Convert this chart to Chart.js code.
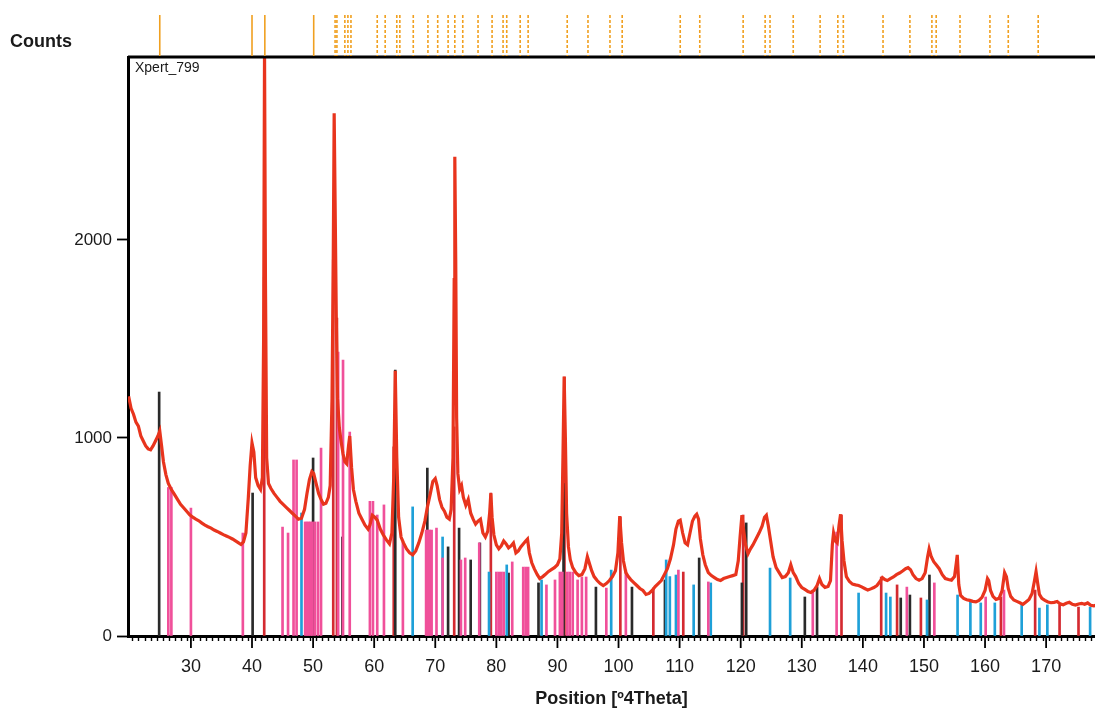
<!DOCTYPE html>
<html>
<head>
<meta charset="utf-8">
<script src="https://cdn.jsdelivr.net/npm/chart.js@4.4.1/dist/chart.umd.min.js"></script>
<style>
  body { margin: 0; background: #fff; overflow: hidden; }
</style>
</head>
<body>
<canvas id="xrd" width="1095" height="710"></canvas>
<script>
// measured profile (position in deg, counts)
var profileAngle = [19.8,20.2,20.6,21.0,21.4,21.8,22.2,22.6,23.0,23.4,23.8,24.2,24.6,24.9,25.2,25.5,25.9,26.3,26.8,27.3,27.8,28.3,28.8,29.3,29.8,30.3,30.8,31.3,31.8,32.3,32.8,33.3,33.8,34.3,34.8,35.3,35.8,36.3,36.8,37.3,37.8,38.2,38.6,39.0,39.4,39.7,40.0,40.3,40.6,41.0,41.4,41.7,41.9,42.05,42.2,42.4,42.7,43.1,43.6,44.1,44.6,45.1,45.6,46.1,46.6,47.1,47.6,48.1,48.6,49.0,49.4,49.8,50.1,50.5,50.9,51.3,51.7,52.1,52.5,52.8,53.1,53.3,53.45,53.6,53.8,54.0,54.3,54.6,54.9,55.2,55.5,55.8,56.0,56.3,56.6,57.0,57.5,58.0,58.5,59.0,59.3,59.7,60.1,60.5,61.0,61.5,62.0,62.5,62.9,63.2,63.45,63.7,64.0,64.4,64.8,65.3,65.8,66.3,66.8,67.3,67.8,68.3,68.7,69.2,69.6,70.0,70.3,70.7,71.1,71.5,71.9,72.3,72.6,72.9,73.1,73.2,73.35,73.5,73.7,74.0,74.3,74.6,75.0,75.4,75.8,76.2,76.6,77.0,77.4,77.8,78.2,78.6,78.9,79.1,79.3,79.6,80.0,80.4,80.8,81.2,81.6,82.0,82.4,82.8,83.2,83.6,84.0,84.4,84.8,85.1,85.4,85.8,86.2,86.7,87.1,87.6,88.0,88.5,89.0,89.5,90.0,90.4,90.7,90.9,91.1,91.3,91.5,91.8,92.1,92.5,93.0,93.5,94.0,94.5,94.9,95.2,95.6,96.0,96.5,97.0,97.5,98.0,98.5,99.0,99.5,99.9,100.2,100.5,100.8,101.2,101.6,102.0,102.5,103.0,103.5,104.0,104.5,105.0,105.5,106.0,106.5,107.0,107.5,108.0,108.5,109.0,109.4,109.8,110.1,110.5,110.9,111.3,111.7,112.1,112.5,112.8,113.1,113.4,113.8,114.2,114.7,115.2,115.7,116.2,116.7,117.2,117.7,118.2,118.7,119.2,119.6,119.9,120.2,120.5,120.8,121.2,121.6,122.0,122.5,123.0,123.5,123.9,124.2,124.5,124.9,125.3,125.8,126.3,126.8,127.3,127.8,128.2,128.6,129.0,129.5,130.0,130.5,131.0,131.5,132.0,132.5,132.9,133.3,133.8,134.3,134.7,135.0,135.2,135.5,135.8,136.1,136.35,136.6,136.9,137.3,137.8,138.3,138.8,139.3,139.8,140.3,140.8,141.3,141.8,142.3,142.8,143.2,143.6,144.0,144.5,145.0,145.5,146.0,146.5,147.0,147.4,147.8,148.2,148.7,149.2,149.7,150.2,150.6,150.85,151.2,151.6,152.0,152.5,153.0,153.5,154.0,154.5,155.0,155.3,155.45,155.7,156.0,156.5,157.0,157.5,158.0,158.5,159.0,159.5,160.0,160.4,160.6,160.9,161.3,161.8,162.3,162.8,163.2,163.5,163.8,164.2,164.7,165.2,165.7,166.2,166.7,167.2,167.7,168.1,168.35,168.6,168.9,169.3,169.8,170.3,170.8,171.3,171.8,172.3,172.8,173.3,173.8,174.3,174.8,175.3,175.8,176.3,176.8,177.3,177.8,178.3];
var profileCounts = [1210,1150,1120,1080,1060,1010,985,960,945,940,960,985,1010,1035,960,880,815,770,740,715,690,665,648,630,612,600,590,582,570,560,552,545,535,528,520,512,505,498,490,480,470,462,475,520,700,860,975,930,800,760,740,800,1500,2950,1800,900,770,745,720,700,680,665,650,635,620,605,590,595,640,720,790,830,820,770,720,690,665,670,700,760,1200,1900,2640,2200,1600,1200,1050,980,920,880,870,960,1010,850,740,680,620,590,560,540,560,610,600,585,540,510,485,465,520,800,1340,900,600,500,470,440,420,410,430,470,520,580,650,720,780,795,760,690,650,630,600,590,640,900,1800,2420,1900,1100,820,740,760,700,660,690,620,590,565,580,590,520,500,530,620,720,600,510,460,440,455,480,465,445,455,470,420,430,450,465,480,490,420,370,340,310,290,300,310,325,335,345,360,390,520,900,1310,1000,620,450,385,345,320,305,310,340,400,370,330,300,280,265,255,265,280,300,330,420,605,470,380,320,300,285,270,255,240,230,210,215,230,250,265,280,310,340,390,460,540,580,585,520,470,460,520,580,605,615,590,490,410,360,320,305,295,285,280,290,295,300,305,310,380,500,610,530,460,415,440,460,490,520,555,600,610,560,480,400,345,320,295,300,320,360,320,300,265,245,235,225,220,230,255,290,260,245,250,280,460,520,480,470,560,615,480,380,300,275,262,258,255,248,240,232,238,245,255,275,295,285,280,290,298,310,318,328,340,345,335,310,290,282,290,320,400,440,400,375,360,340,310,290,285,282,300,370,410,260,205,190,183,180,175,172,180,195,230,290,280,230,200,185,190,230,320,300,240,200,182,175,168,160,172,185,215,280,325,270,210,190,180,172,168,170,174,162,158,165,170,160,156,162,165,160,167,155,152,158];

// reference pattern sticks
var pinkPos = [26.3,26.8,30.0,38.5,45.0,45.9,46.8,47.3,48.7,49.0,49.3,49.6,49.9,50.3,50.8,51.3,54.1,54.9,56.0,59.3,59.8,60.5,61.6,64.7,68.5,68.8,69.1,69.4,70.2,71.2,74.2,74.9,77.2,80.0,80.4,80.8,81.2,82.6,84.4,84.8,85.2,88.2,89.6,90.4,90.8,91.6,92.0,92.5,93.3,94.0,94.7,98.0,101.2,109.8,114.7,131.8,135.7,147.2,151.7,160.1,163.1];
var pinkCounts = [750,750,646,520,550,520,889,889,576,576,576,576,576,576,576,949,1434,1394,1030,680,680,611,662,474,535,535,535,535,545,394,384,394,470,323,323,323,323,374,348,348,348,258,283,323,323,323,323,323,283,298,298,242,333,333,273,232,525,247,268,197,232];
var bluePos = [48.1,66.3,71.2,78.8,81.7,87.4,98.8,107.8,108.4,109.4,112.3,115.1,124.8,128.1,139.3,143.8,144.5,150.5,155.5,157.6,159.3,161.6,166.0,168.9,170.2,177.2];
var blueCounts = [621,652,500,323,359,283,333,384,300,308,258,268,343,293,217,217,197,182,207,172,167,167,157,141,157,146];
var blackPos = [24.8,40.1,50.0,54.8,63.45,68.7,72.1,73.9,75.8,77.3,82.0,86.9,91.0,96.3,102.2,107.6,113.2,120.2,120.9,130.5,132.5,146.2,147.7,150.9];
var blackCounts = [1232,722,899,500,1343,848,450,545,384,470,318,268,770,247,247,283,394,268,571,197,247,192,207,308];
var redPos = [42.0,53.3,53.9,63.2,73.1,79.1,91.15,100.3,105.7,110.6,120.4,136.5,143.0,145.6,149.5,162.6,168.2,172.2,175.3];
var redCounts = [1813,1900,1606,955,1056,722,1308,601,242,323,611,611,298,258,192,197,232,157,146];

// phase markers above the plot
var markerPos = [24.9,40.0,42.1,50.1,53.6,53.9,55.2,55.7,56.2,60.5,61.8,63.7,64.2,66.4,68.8,70.4,72.1,73.2,74.5,77.0,79.3,81.1,81.7,83.9,85.2,91.6,95.0,98.6,100.6,110.1,113.3,120.4,124.0,124.8,128.6,133.0,135.9,136.8,143.3,147.7,151.3,152.0,155.9,160.8,163.8,168.7];

var yTicks = [0, 1000, 2000];
var xLabelTicks = [30, 40, 50, 60, 70, 80, 90, 100, 110, 120, 130, 140, 150, 160, 170];

function pts(xs, ys) {
  return xs.map(function (x, i) { return {x: x, y: ys[i]}; });
}

function sticks(xs, ys, color) {
  return {
    type: 'bar',
    data: pts(xs, ys),
    backgroundColor: color,
    barThickness: 2,
    grouped: false,
    order: 2
  };
}

var FONT = "'Liberation Sans', Arial, sans-serif";

var extras = {
  id: 'extras',
  afterDraw: function (chart) {
    var c = chart.ctx, a = chart.chartArea, xs = chart.scales.x;
    c.save();
    // top frame line
    c.strokeStyle = '#000';
    c.lineWidth = 3;
    c.beginPath();
    c.moveTo(a.left, a.top);
    c.lineTo(a.right, a.top);
    c.stroke();
    // long ticks every 10 deg
    c.lineWidth = 1.8;
    xLabelTicks.forEach(function (v) {
      var px = xs.getPixelForValue(v);
      c.beginPath();
      c.moveTo(px, a.bottom);
      c.lineTo(px, a.bottom + 12);
      c.stroke();
    });
    // phase markers
    markerPos.forEach(function (v, i) {
      var px = xs.getPixelForValue(v);
      c.lineWidth = 1.6;
      c.strokeStyle = '#f0a020';
      c.setLineDash(i < 4 ? [] : [3, 2]);
      c.beginPath();
      c.moveTo(px, a.top - 42);
      c.lineTo(px, a.top - 1);
      c.stroke();
    });
    c.setLineDash([]);
    // texts
    c.fillStyle = '#1a1a1a';
    c.font = 'bold 18px ' + FONT;
    c.textBaseline = 'middle';
    c.textAlign = 'left';
    c.fillText('Counts', 10, 42);
    c.font = '14px ' + FONT;
    c.fillText('Xpert_799', a.left + 7, a.top + 11);
    c.restore();
  }
};

new Chart(document.getElementById('xrd'), {
  data: {
    datasets: [
      {
        type: 'line',
        data: pts(profileAngle, profileCounts),
        borderColor: '#e8341d',
        borderWidth: 3.2,
        pointRadius: 0,
        tension: 0,
        order: 1
      },
      sticks(pinkPos, pinkCounts, '#f0509a'),
      sticks(bluePos, blueCounts, '#1ea0d8'),
      sticks(blackPos, blackCounts, '#2a2a2a'),
      sticks(redPos, redCounts, '#d42a30')
    ]
  },
  options: {
    responsive: false,
    animation: false,
    layout: {autoPadding: false, padding: {top: 57, right: 0, left: 0, bottom: 0}},
    plugins: {legend: {display: false}, tooltip: {enabled: false}},
    scales: {
      x: {
        type: 'linear',
        min: 19.7,
        max: 178.0,
        offset: false,
        afterBuildTicks: function (s) {
          var t = [];
          for (var v = 20; v <= 178; v++) t.push({value: v});
          s.ticks = t;
        },
        afterFit: function (s) {
          s.height = 74;
          s.paddingLeft = 0;
          s.paddingRight = 0;
        },
        ticks: {
          autoSkip: false,
          maxRotation: 0,
          padding: 15,
          color: '#1a1a1a',
          font: {family: FONT, size: 18},
          callback: function (v) { return (v % 10 === 0 && v >= 30) ? String(v) : ''; }
        },
        grid: {drawOnChartArea: false, drawTicks: true, tickLength: 5, tickColor: '#000', tickWidth: 1.4},
        border: {display: true, color: '#000', width: 3},
        title: {display: true, text: 'Position [º4Theta]', color: '#1a1a1a', font: {family: FONT, size: 18, weight: 'bold'}, padding: {top: 0, bottom: 0}}
      },
      y: {
        min: 0,
        max: 2924,
        afterBuildTicks: function (s) { s.ticks = yTicks.map(function (v) { return {value: v}; }); },
        afterFit: function (s) {
          s.width = 128;
          s.paddingTop = 0;
          s.paddingBottom = 0;
        },
        ticks: {
          padding: 5,
          color: '#1a1a1a',
          font: {family: FONT, size: 17},
          callback: function (v) { return String(v); }
        },
        grid: {drawOnChartArea: false, drawTicks: true, tickLength: 11, tickColor: '#000', tickWidth: 1.8},
        border: {display: true, color: '#000', width: 3}
      }
    }
  },
  plugins: [extras]
});
</script>
</body>
</html>
